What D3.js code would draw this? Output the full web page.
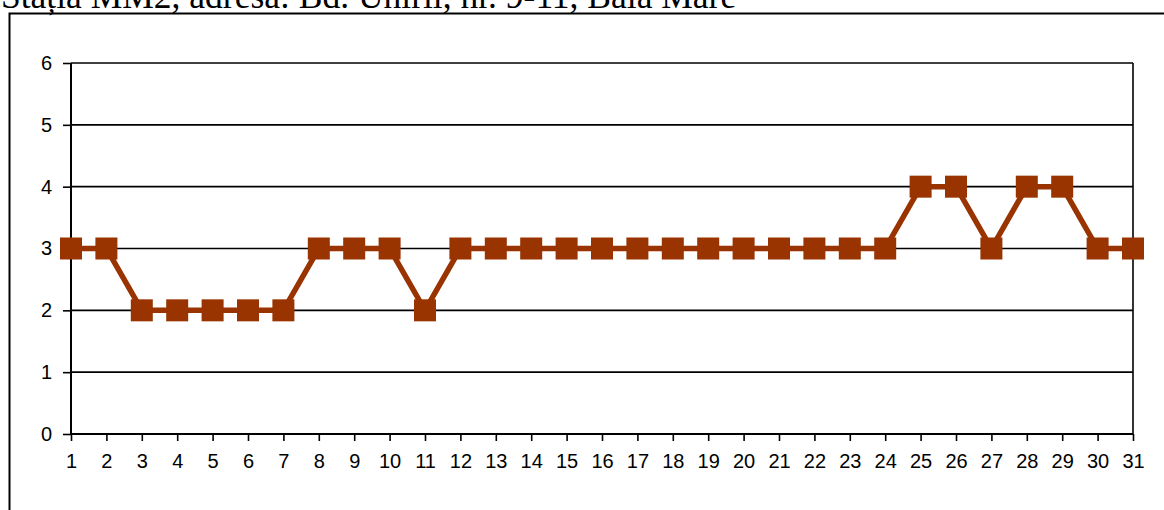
<!DOCTYPE html>
<html>
<head>
<meta charset="utf-8">
<script src="https://cdn.jsdelivr.net/npm/d3@7"></script>
<style>
  html, body { margin: 0; padding: 0; background: #fff; }
  svg { display: block; }
</style>
</head>
<body>
<script>
// Daily values for station MM2
const days = d3.range(1, 32);
const values = [3, 3, 2, 2, 2, 2, 2, 3, 3, 3, 2, 3, 3, 3, 3, 3, 3, 3, 3, 3, 3, 3, 3, 3, 4, 4, 3, 4, 4, 3, 3];
const yTicks = [0, 1, 2, 3, 4, 5, 6];
const title = "Stația MM2, adresa: Bd. Unirii, nr. 9-11, Baia Mare";

const W = 1164, H = 510;
const svg = d3.select("body").append("svg").attr("width", W).attr("height", H);

// Heading above the chart frame
svg.append("text")
  .attr("x", 1).attr("y", 8)
  .attr("font-family", "'Liberation Serif', 'Times New Roman', serif")
  .attr("font-size", 35.5)
  .attr("fill", "#000")
  .text(title);

// Outer chart frame
svg.append("rect")
  .attr("x", 9.5).attr("y", 13.5)
  .attr("width", 1200).attr("height", 600)
  .attr("fill", "none").attr("stroke", "#000").attr("stroke-width", 2);

const plot = { left: 71, right: 1133, top: 63, bottom: 434 };

const x = d3.scalePoint().domain(days).range([plot.left, plot.right]);
const y = d3.scaleLinear().domain([0, 6]).range([plot.bottom, plot.top]);

// Horizontal gridlines
svg.append("g").selectAll("line").data(yTicks.filter(d => d > 0)).join("line")
  .attr("x1", plot.left).attr("x2", plot.right)
  .attr("y1", d => y(d)).attr("y2", d => y(d))
  .attr("stroke", "#000").attr("stroke-width", 1.6);

// Right border of the plot area
svg.append("line")
  .attr("x1", plot.right).attr("x2", plot.right)
  .attr("y1", plot.top).attr("y2", plot.bottom)
  .attr("stroke", "#000").attr("stroke-width", 1.6);

const font = "'Liberation Sans', Arial, sans-serif";

// Y axis
const yAxis = svg.append("g")
  .attr("transform", `translate(${plot.left},0)`)
  .call(d3.axisLeft(y).tickValues(yTicks).tickFormat(d3.format("d")).tickSize(8).tickPadding(11));
yAxis.select(".domain").attr("stroke", "#000").attr("stroke-width", 2).attr("d", `M0,${plot.top}V${plot.bottom}`);
yAxis.selectAll(".tick line").attr("stroke", "#000").attr("stroke-width", 1.6);
yAxis.selectAll(".tick text").attr("font-family", font).attr("font-size", 20).attr("fill", "#000");

// X axis
const xAxis = svg.append("g")
  .attr("transform", `translate(0,${plot.bottom})`)
  .call(d3.axisBottom(x).tickSize(7).tickPadding(13));
xAxis.select(".domain").attr("stroke", "#000").attr("stroke-width", 2).attr("d", `M${plot.left},0H${plot.right}`);
xAxis.selectAll(".tick line").attr("stroke", "#000").attr("stroke-width", 1.6);
xAxis.selectAll(".tick text").attr("font-family", font).attr("font-size", 20).attr("fill", "#000");

// Series line
const color = "#993300";
svg.append("path")
  .datum(values)
  .attr("fill", "none")
  .attr("stroke", color)
  .attr("stroke-width", 5.5)
  .attr("stroke-linejoin", "miter")
  .attr("d", d3.line().x((d, i) => x(days[i])).y(d => y(d)));

// Square markers
const m = 22;
svg.append("g").selectAll("rect").data(values).join("rect")
  .attr("x", (d, i) => x(days[i]) - m / 2)
  .attr("y", d => y(d) - m / 2)
  .attr("width", m).attr("height", m)
  .attr("fill", color);
</script>
</body>
</html>
